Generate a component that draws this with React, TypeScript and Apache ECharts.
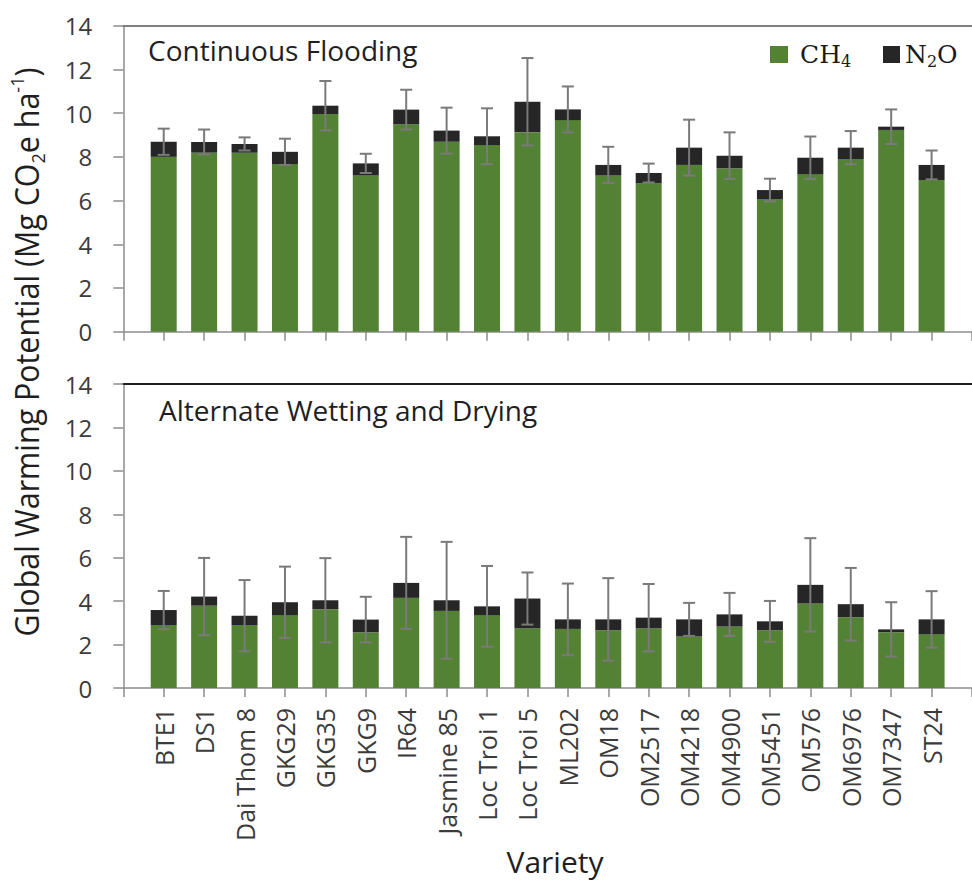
import React, { useEffect, useRef } from "react";
import * as echarts from "echarts";

const categories = [
  "BTE1", "DS1", "Dai Thom 8", "GKG29", "GKG35", "GKG9", "IR64", "Jasmine 85",
  "Loc Troi 1", "Loc Troi 5", "ML202", "OM18", "OM2517", "OM4218", "OM4900",
  "OM5451", "OM576", "OM6976", "OM7347", "ST24",
];

// Continuous Flooding
const cfCH4 = [8.0, 8.19, 8.19, 7.67, 9.96, 7.14, 9.49, 8.69, 8.54, 9.13, 9.68, 7.14, 6.79, 7.63, 7.47, 6.07, 7.21, 7.9, 9.23, 6.94];
const cfN2O = [0.69, 0.49, 0.4, 0.56, 0.38, 0.56, 0.67, 0.51, 0.4, 1.39, 0.49, 0.49, 0.47, 0.79, 0.58, 0.41, 0.75, 0.52, 0.15, 0.69];
const cfSD = [0.6, 0.57, 0.3, 0.6, 1.13, 0.44, 0.91, 1.05, 1.28, 2.0, 1.05, 0.83, 0.43, 1.28, 1.07, 0.52, 0.97, 0.76, 0.79, 0.66];

// Alternate Wetting and Drying
const awdCH4 = [2.9, 3.79, 2.9, 3.36, 3.63, 2.56, 4.15, 3.55, 3.36, 2.75, 2.72, 2.66, 2.75, 2.37, 2.83, 2.66, 3.89, 3.26, 2.57, 2.47];
const awdN2O = [0.69, 0.42, 0.43, 0.59, 0.41, 0.59, 0.69, 0.49, 0.4, 1.37, 0.44, 0.5, 0.49, 0.79, 0.56, 0.41, 0.86, 0.6, 0.13, 0.69];
const awdSD = [0.88, 1.78, 1.64, 1.64, 1.94, 1.05, 2.12, 2.69, 1.86, 1.2, 1.65, 1.9, 1.55, 0.76, 0.99, 0.94, 2.15, 1.67, 1.25, 1.3];

const panelTitles = ["Continuous Flooding", "Alternate Wetting and Drying"];
const yMin = 0;
const yMax = 14;
const yStep = 2;

const GREEN = "#548235";
const DARK = "#262626";
const AXIS = "#8c8c8c";
const TXT = "#3b3b3b";
const FONT = "Open Sans";

// axis categories: one empty slot before and after the varieties (Excel-style padding)
const axisCats = ["", ...categories, ""];

function errorSeries(ch4: number[], n2o: number[], sd: number[], idx: number) {
  return {
    type: "custom",
    xAxisIndex: idx,
    yAxisIndex: idx,
    z: 10,
    silent: true,
    data: ch4.map((c, i) => [i + 1, c + n2o[i], sd[i]]),
    renderItem: (_p: any, api: any) => {
      const x = api.value(0);
      const t = api.value(1);
      const s = api.value(2);
      const top = api.coord([x, t + s]);
      const bot = api.coord([x, t - s]);
      const cw = 6;
      const st = { stroke: "#7a7a7a", lineWidth: 2 };
      return {
        type: "group",
        children: [
          { type: "line", shape: { x1: top[0], y1: top[1], x2: bot[0], y2: bot[1] }, style: st },
          { type: "line", shape: { x1: top[0] - cw, y1: top[1], x2: top[0] + cw, y2: top[1] }, style: st },
          { type: "line", shape: { x1: bot[0] - cw, y1: bot[1], x2: bot[0] + cw, y2: bot[1] }, style: st },
        ],
      };
    },
  };
}

export default function App() {
  const ref = useRef<HTMLDivElement>(null);
  useEffect(() => {
    if (!ref.current) return;
    const chart = echarts.init(ref.current, null, { renderer: "svg" });
    const gridLeft = 123.3;
    const step = 40.84;
    const gridW = step * (axisCats.length - 1);

    const bottomAxis = (gi: number, showLabels: boolean) => ({
      type: "category",
      gridIndex: gi,
      data: axisCats,
      boundaryGap: false,
      position: "bottom",
      splitLine: { show: false },
      axisLine: { show: true, lineStyle: { color: AXIS, width: 1.5 } },
      axisTick: { show: true, interval: 0, length: 9, lineStyle: { color: AXIS, width: 1.5 } },
      axisLabel: {
        show: showLabels,
        interval: 0,
        rotate: 90,
        margin: 20,
        fontFamily: FONT,
        fontSize: 25,
        color: TXT,
      },
    });
    const topAxis = (gi: number, color: string) => ({
      type: "category",
      gridIndex: gi,
      data: axisCats,
      boundaryGap: false,
      position: "top",
      splitLine: { show: false },
      axisLine: { show: true, lineStyle: { color, width: 2 } },
      axisTick: { show: false },
      axisLabel: { show: false },
    });
    const yAxis = (gi: number) => ({
      type: "value",
      gridIndex: gi,
      min: yMin,
      max: yMax,
      interval: yStep,
      splitLine: { show: false },
      axisLine: { show: true, lineStyle: { color: AXIS, width: 1.5 } },
      axisTick: { show: true, length: 10, lineStyle: { color: AXIS, width: 1.5 } },
      axisLabel: { margin: 31, fontFamily: FONT, fontSize: 24, color: TXT },
    });

    const bar = (name: string, data: number[], stack: string, gi: number, color: string) => ({
      type: "bar",
      name,
      stack,
      xAxisIndex: gi,
      yAxisIndex: gi,
      barWidth: 26,
      data: ["-", ...data, "-"],
      itemStyle: { color },
    });

    const legendRich = {
      b: { fontFamily: "DejaVu Serif", fontSize: 25, color: "#1a1a1a", lineHeight: 30 },
      s: { fontFamily: "DejaVu Serif", fontSize: 16, color: "#1a1a1a", verticalAlign: "bottom", lineHeight: 16 },
    };
    const legendFmt = (n: string) => (n === "CH4" ? "{b|CH}{s|4}" : "{b|N}{s|2}{b|O}");

    chart.setOption({
      animation: false,
      backgroundColor: "#ffffff",
      grid: [
        { left: gridLeft, top: 25.7, width: gridW, height: 306 },
        { left: gridLeft, top: 384, width: gridW, height: 304 },
      ],
      xAxis: [bottomAxis(0, false), bottomAxis(1, true), topAxis(0, "#7f7f7f"), topAxis(1, "#1f1f1f")],
      yAxis: [yAxis(0), yAxis(1)],
      legend: [
        {
          data: [{ name: "CH4", icon: "rect" }],
          left: 765, top: 37, itemWidth: 18, itemHeight: 17,
          formatter: legendFmt,
          textStyle: { rich: legendRich, padding: [0, 0, 0, 7] },
        },
        {
          data: [{ name: "N2O", icon: "rect" }],
          left: 878, top: 37, itemWidth: 17, itemHeight: 17,
          formatter: legendFmt,
          textStyle: { rich: legendRich, padding: [0, 0, 0, 0] },
        },
      ],
      series: [
        bar("CH4", cfCH4, "cf", 0, GREEN),
        bar("N2O", cfN2O, "cf", 0, DARK),
        errorSeries(cfCH4, cfN2O, cfSD, 0),
        bar("CH4", awdCH4, "awd", 1, GREEN),
        bar("N2O", awdN2O, "awd", 1, DARK),
        errorSeries(awdCH4, awdN2O, awdSD, 1),
      ],
      graphic: [
        {
          type: "text", left: 148, top: 36,
          style: { text: panelTitles[0], fontFamily: FONT, fontSize: 28, fill: "#1f1f1f" },
        },
        {
          type: "text", left: 159, top: 396,
          style: { text: panelTitles[1], fontFamily: FONT, fontSize: 28, fill: "#1f1f1f" },
        },
        {
          type: "text", x: 555, y: 861,
          style: { text: "Variety", fontFamily: FONT, fontSize: 30, fill: "#1f1f1f", align: "center", verticalAlign: "middle" },
        },
        {
          type: "text", x: 27, y: 352, rotation: Math.PI / 2, scaleX: 0.95,
          style: {
            text: "{t|Global Warming Potential (Mg CO}{sub|2}{t|e ha}{sup|-1}{t|)}",
            align: "center",
            verticalAlign: "middle",
            rich: {
              t: { fontFamily: FONT, fontSize: 32, fill: "#1f1f1f", lineHeight: 40 },
              sub: { fontFamily: FONT, fontSize: 19, fill: "#1f1f1f", lineHeight: 19, verticalAlign: "bottom" },
              sup: { fontFamily: FONT, fontSize: 19, fill: "#1f1f1f", lineHeight: 19, verticalAlign: "top" },
            },
          },
        },
      ],
    });
    return () => chart.dispose();
  }, []);
  return (
    <div
      ref={ref}
      style={{ position: "absolute", left: 0, top: 0, width: 972, height: 881, background: "#fff" }}
    />
  );
}
